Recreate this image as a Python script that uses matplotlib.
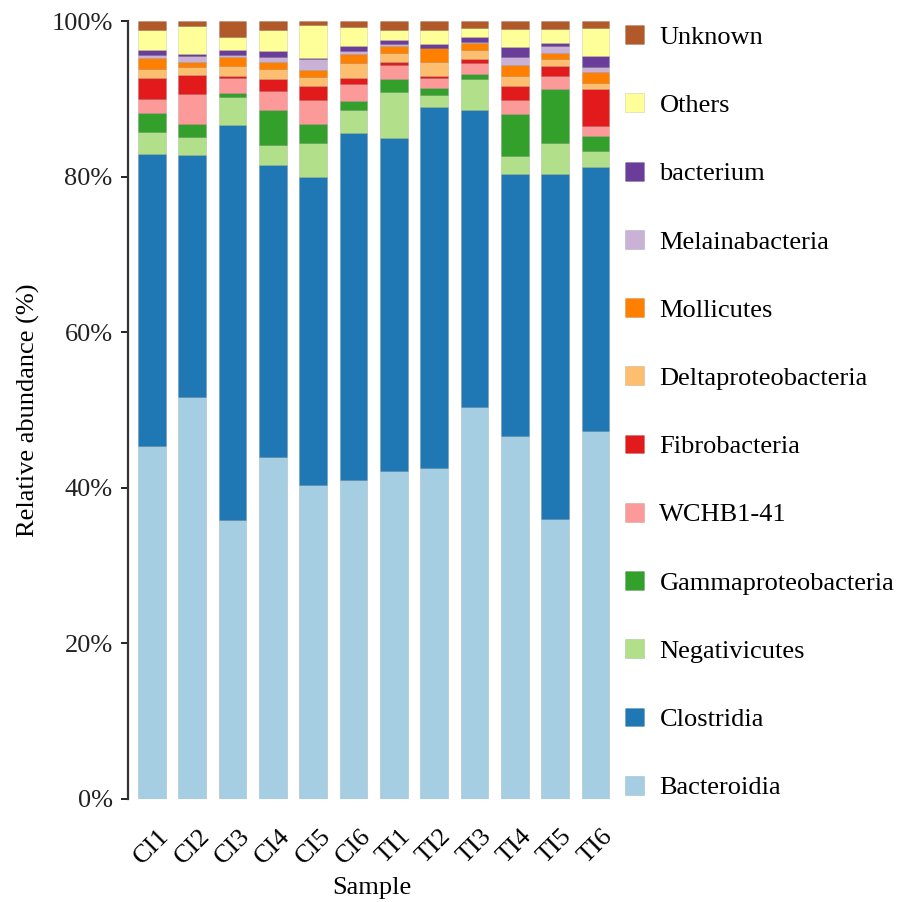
"""Stacked relative abundance of bacterial classes per sample."""

import matplotlib

matplotlib.use("Agg")
import matplotlib.pyplot as plt
from matplotlib.patches import Patch
from matplotlib.ticker import FuncFormatter
import numpy as np

plt.rcParams["font.family"] = ["Liberation Serif", "DejaVu Serif"]

samples = ["CI1", "CI2", "CI3", "CI4", "CI5", "CI6",
           "TI1", "TI2", "TI3", "TI4", "TI5", "TI6"]

# class abundances (%) per sample, bottom of the stack first
bacteroidia = [45.3, 51.8, 35.8, 43.9, 40.4, 40.9, 42.1, 42.4, 50.3, 46.7, 36.0, 47.1]
clostridia = [37.5, 31.2, 50.8, 37.5, 39.5, 44.6, 42.7, 46.3, 38.2, 33.6, 44.2, 33.9]
negativicutes = [2.9, 2.2, 3.6, 2.6, 4.4, 3.0, 5.9, 1.5, 3.9, 2.4, 4.0, 2.1]
gammaproteobacteria = [2.4, 1.7, 0.5, 4.5, 2.5, 1.1, 1.7, 0.9, 0.7, 5.4, 7.0, 1.9]
wchb1_41 = [1.8, 3.9, 1.9, 2.4, 3.1, 2.2, 1.8, 1.3, 1.4, 1.8, 1.6, 1.3]
fibrobacteria = [2.7, 2.4, 0.3, 1.5, 1.8, 0.8, 0.3, 0.3, 0.5, 1.8, 1.3, 4.7]
deltaproteobacteria = [1.1, 1.1, 1.2, 1.4, 1.1, 1.9, 1.2, 1.8, 1.2, 1.2, 0.9, 0.7]
mollicutes = [1.4, 0.6, 1.2, 0.9, 0.9, 1.2, 0.9, 1.7, 0.9, 1.5, 0.8, 1.5]
melainabacteria = [0.4, 0.8, 0.2, 0.6, 1.4, 0.4, 0.3, 0.1, 0.1, 1.0, 0.9, 0.6]
bacterium = [0.7, 0.3, 0.7, 0.7, 0.2, 0.6, 0.5, 0.4, 0.7, 1.2, 0.4, 1.4]
others = [2.5, 3.6, 1.6, 2.7, 4.2, 2.4, 1.2, 1.8, 1.1, 2.4, 1.8, 3.6]
unknown = [1.2, 0.6, 2.1, 1.2, 0.5, 0.8, 1.2, 1.2, 0.9, 1.0, 1.0, 0.9]

taxa = ["Bacteroidia", "Clostridia", "Negativicutes", "Gammaproteobacteria",
        "WCHB1-41", "Fibrobacteria", "Deltaproteobacteria", "Mollicutes",
        "Melainabacteria", "bacterium", "Others", "Unknown"]
abundance = np.array([bacteroidia, clostridia, negativicutes, gammaproteobacteria,
                      wchb1_41, fibrobacteria, deltaproteobacteria, mollicutes,
                      melainabacteria, bacterium, others, unknown], dtype=float)
# rescale every sample to 100 %
abundance = abundance / abundance.sum(axis=0) * 100

colors = ["#a6cee3", "#1f78b4", "#b2df8a", "#33a02c", "#fb9a99", "#e31a1c",
          "#fdbf6f", "#ff7f00", "#cab2d6", "#6a3d9a", "#ffff99", "#b15928"]

fig = plt.figure(figsize=(9.17, 9.02), dpi=100)
ax = fig.add_axes([0.1396, 0.1142, 0.5256, 0.8625])

x = np.arange(len(samples))
bottom = np.zeros(len(samples))
for values, color in zip(abundance, colors):
    ax.bar(x, values, bottom=bottom, width=0.69, color=color,
           edgecolor=(0, 0, 0, 0.12), linewidth=0.6)
    bottom += values

ax.set_xlim(-0.59, 11.36)
ax.set_ylim(0, 100)
ax.set_yticks([0, 20, 40, 60, 80, 100])
ax.yaxis.set_major_formatter(FuncFormatter(lambda v, _: f"{v:.0f}%"))
ax.tick_params(axis="y", direction="out", length=5, width=1.4, pad=6,
               labelsize=19, colors="#222222")
ax.set_xticks(x)
ax.set_xticklabels(samples, rotation=45, ha="center", fontsize=19)
ax.tick_params(axis="x", length=0, pad=19)

for side in ["top", "right", "bottom"]:
    ax.spines[side].set_visible(False)
ax.spines["left"].set_linewidth(1.6)
ax.spines["left"].set_color("#333333")

ax.set_ylabel("Relative abundance (%)", fontsize=19)
ax.yaxis.set_label_coords(-0.183, 0.5)
ax.set_xlabel("Sample", fontsize=19)
ax.xaxis.set_label_coords(0.506, -0.1)

handles = [Patch(facecolor=c, edgecolor=(0, 0, 0, 0.12), linewidth=0.6, label=t)
           for t, c in zip(taxa, colors)][::-1]
fig.legend(handles=handles, loc="upper left", bbox_to_anchor=(0.682, 0.972),
           frameon=False, fontsize=19, handlelength=0.72, handleheight=0.72,
           handletextpad=0.57, labelspacing=1.69, borderpad=0, borderaxespad=0)

fig.savefig("out.png", dpi=100, facecolor="white")
